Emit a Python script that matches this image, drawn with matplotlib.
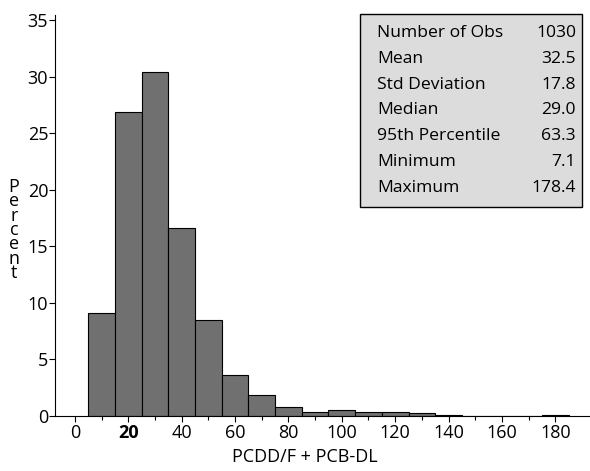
import matplotlib
matplotlib.use('Agg')
import matplotlib.pyplot as plt
from matplotlib.ticker import MultipleLocator, FixedLocator

plt.rcParams['font.family'] = ['Open Sans', 'DejaVu Sans']

bin_centers = [10, 20, 30, 40, 50, 60, 70, 80, 90, 100, 110, 120, 130, 140, 150, 160, 170, 180]
percent = [9.1, 26.9, 30.4, 16.6, 8.5, 3.6, 1.8, 0.8, 0.3, 0.5, 0.3, 0.3, 0.2, 0.1, 0.0, 0.0, 0.0, 0.1]

stat_names = ['Number of Obs', 'Mean', 'Std Deviation', 'Median',
              '95th Percentile', 'Minimum', 'Maximum']
stat_values = ['1030', '32.5', '17.8', '29.0', '63.3', '7.1', '178.4']

fig = plt.figure(figsize=(5.9, 4.71), dpi=100)
ax = fig.add_axes([0.093, 0.1174, 0.907, 0.851])

ax.bar(bin_centers, percent, width=10, color='#707070', edgecolor='black', linewidth=0.8)

ax.set_xlim(-7.5, 193)
ax.set_ylim(0, 35.45)
ax.xaxis.set_major_locator(MultipleLocator(20))
ax.set_xticks([0, 20, 40, 60, 80, 100, 120, 140, 160, 180])
ax.xaxis.set_minor_locator(FixedLocator([10, 30, 50, 70, 90, 110, 130, 150, 170]))
ax.set_yticks([0, 5, 10, 15, 20, 25, 30, 35])
ax.tick_params(axis='y', which='major', labelsize=13, length=4.3, width=0.8, pad=0.5)
ax.tick_params(axis='x', which='major', labelsize=13, length=4.3, width=0.8, pad=2)
ax.tick_params(axis='x', which='minor', length=3, width=0.8)
for lbl in ax.get_xticklabels():
    if lbl.get_text() == '20':
        lbl.set_fontweight('bold')

for s in ['top', 'right']:
    ax.spines[s].set_visible(False)

fig.text(0.5166, 1 - 457 / 471, 'PCDD/F + PCB-DL', fontsize=13, ha='center', va='center')
fig.text(14 / 590, 1 - 230 / 471, 'P\ne\nr\nc\ne\nn\nt', fontsize=13, ha='center',
         va='center', linespacing=0.74)

# stats box
box = plt.Rectangle((360 / 590, 1 - 207 / 471), 222 / 590, 193 / 471, transform=fig.transFigure,
                    facecolor='#dcdcdc', edgecolor='black', linewidth=1, zorder=3)
fig.add_artist(box)
for i, (n, v) in enumerate(zip(stat_names, stat_values)):
    yy = 1 - (33 + i * 25.8) / 471
    fig.text(377 / 590, yy, n, fontsize=12.6, va='center', ha='left', zorder=4)
    fig.text(576 / 590, yy, v, fontsize=12.6, va='center', ha='right', zorder=4)

plt.savefig('out.png', dpi=100)
